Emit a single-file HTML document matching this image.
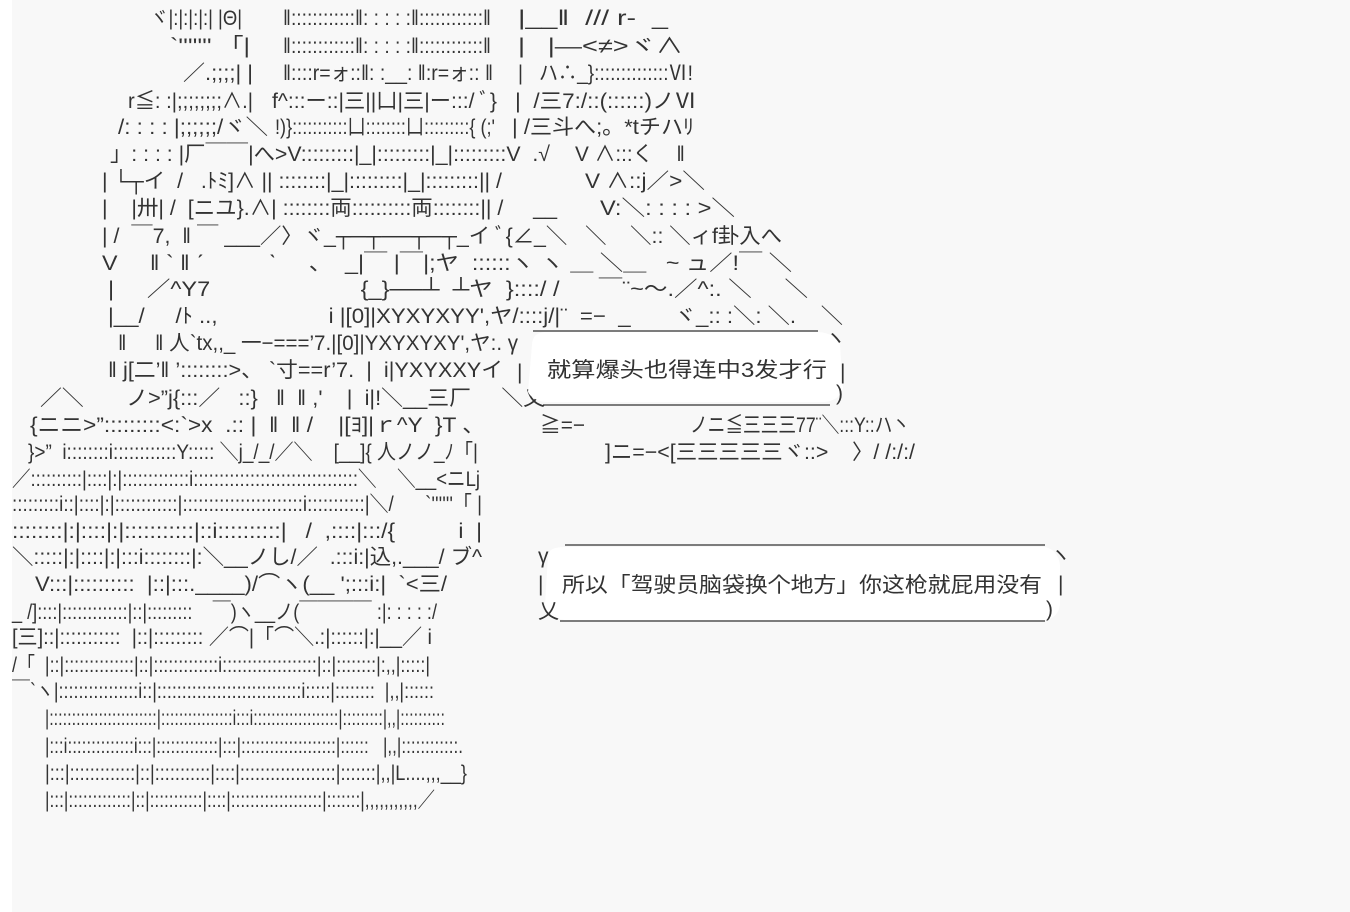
<!DOCTYPE html>
<html><head><meta charset="utf-8"><style>
html,body{margin:0;padding:0;background:#f8f8f8;}
svg{display:block}
text{font-family:"Liberation Sans","Noto Sans CJK JP",sans-serif;font-size:21px;fill:#333;white-space:pre}
</style></head><body>
<svg width="1350" height="912" viewBox="0 0 1350 912" xmlns="http://www.w3.org/2000/svg">
<rect x="0" y="0" width="12" height="912" fill="#ffffff"/>
<g>
<text x="150" y="25" textLength="92" lengthAdjust="spacingAndGlyphs">ヾ|:|:|:|:| |Θ|</text>
<text x="283" y="25" textLength="208" lengthAdjust="spacingAndGlyphs">‖::::::::::::‖: : : : :‖::::::::::::‖</text>
<text x="518" y="25" textLength="150" lengthAdjust="spacingAndGlyphs">|__‖  /// r‐  _</text>

<text x="170" y="53" textLength="80" lengthAdjust="spacingAndGlyphs">`''''''' 「|</text>
<text x="283" y="53" textLength="208" lengthAdjust="spacingAndGlyphs">‖::::::::::::‖: : : : :‖::::::::::::‖</text>
<text x="518" y="53" textLength="165" lengthAdjust="spacingAndGlyphs">|   |―&lt;≠&gt;ヾ∧</text>

<text x="183" y="80" textLength="70" lengthAdjust="spacingAndGlyphs">／.;;;;| |</text>
<text x="283" y="80" textLength="210" lengthAdjust="spacingAndGlyphs">‖::::r=ォ::‖: :__: ‖:r=ォ:: ‖</text>
<text x="518" y="80" textLength="175" lengthAdjust="spacingAndGlyphs">|   ハ∴_}::::::::::::::Ⅵ!</text>

<text x="128" y="108" textLength="125" lengthAdjust="spacingAndGlyphs">r≦: :|;;;;;;;;∧.|</text>
<text x="272" y="108" textLength="225" lengthAdjust="spacingAndGlyphs">f^:::ー::|三||凵|三|ー:::/ ﾞ}</text>
<text x="515" y="108" textLength="182" lengthAdjust="spacingAndGlyphs">|  /三7:/::(::::::)ノⅥ</text>

<text x="118" y="134" textLength="150" lengthAdjust="spacingAndGlyphs">/: : : : |;;;;;;/ヾ＼</text>
<text x="275" y="134" textLength="220" lengthAdjust="spacingAndGlyphs">!)}:::::::::::凵::::::::凵:::::::::{ (;'</text>
<text x="512" y="134" textLength="182" lengthAdjust="spacingAndGlyphs">| /三斗へ;。*tチハﾘ</text>

<text x="110" y="161" textLength="440" lengthAdjust="spacingAndGlyphs">」: : : : |厂￣￣|へ&gt;V:::::::::|_|:::::::::|_|:::::::::V  .√</text>
<text x="575" y="161" textLength="110" lengthAdjust="spacingAndGlyphs">V ∧:::く    ‖</text>

<text x="102" y="188" textLength="400" lengthAdjust="spacingAndGlyphs">| └┬イ  /   .ﾄﾐ]∧ || ::::::::|_|:::::::::|_|:::::::::|| /</text>
<text x="585" y="188" textLength="120" lengthAdjust="spacingAndGlyphs">V ∧::j／&gt;＼</text>

<text x="102" y="215" textLength="455" lengthAdjust="spacingAndGlyphs">|    |卅| /  [ニユ}.∧| ::::::::両::::::::::両::::::::|| /     __</text>
<text x="600" y="215" textLength="135" lengthAdjust="spacingAndGlyphs">V:＼: : : : &gt;＼</text>

<text x="102" y="243" textLength="680" lengthAdjust="spacingAndGlyphs">| /  ￣7,  ‖ ￣ ___／〉ヾ_┬─┬──┬─┬_イ ﾞ{∠_＼   ＼    ＼:: ＼ィf卦入へ</text>
<text x="102" y="270" textLength="690" lengthAdjust="spacingAndGlyphs">V     ‖ ` ‖ ˊ          ˋ     、  _|￣ |￣|;ヤ  ::::::ヽ ヽ ＿ ＼＿   ~ ュ／!￣ ＼</text>
<text x="108" y="296" textLength="700" lengthAdjust="spacingAndGlyphs">|     ／^Y7                       {_}──┴  ┴ヤ  }::::/ /      ￣¨~～.／^:. ＼     ＼</text>
<text x="108" y="323" textLength="735" lengthAdjust="spacingAndGlyphs">|__/     /ﾄ ..,                  i |[0]|XYXYXYY',ヤ/::::j/|¨  =−  _       ヾ_:: :＼: ＼.    ＼</text>
<text x="118" y="350" textLength="400" lengthAdjust="spacingAndGlyphs">‖     ‖ 人`tx,,_ 一−===’7.|[0]|YXYXYXY',ヤ:. γ</text>
<text x="108" y="377" textLength="395" lengthAdjust="spacingAndGlyphs">‖ j[二’‖ ’::::::::&gt;、 `寸==r’7.  |  i|YXYXXYイ</text>
<text x="40" y="405" textLength="505" lengthAdjust="spacingAndGlyphs">／＼       ノ&gt;”j{:::／   ::}   ‖  ‖ ,'    |  i|!＼__三厂     ＼乂</text>
<text x="30" y="432" textLength="455" lengthAdjust="spacingAndGlyphs">{ニニ&gt;”:::::::::&lt;:`&gt;x  .:: |  ‖  ‖ /    |[ﾖ]|ｒ^Y  }T 、</text>
<text x="540" y="432" textLength="45" lengthAdjust="spacingAndGlyphs">≧=−</text>
<text x="690" y="432" textLength="220" lengthAdjust="spacingAndGlyphs">ノニ≦三三三77¨＼:::Y::ハ丶</text>
<text x="28" y="459" textLength="450" lengthAdjust="spacingAndGlyphs">}&gt;”  i::::::::i::::::::::::Y::::: ＼j_/_/／＼    [__]{ 人ノノ_ﾉ「|</text>
<text x="605" y="459" textLength="310" lengthAdjust="spacingAndGlyphs">]ニ=−&lt;[三三三三三ヾ::&gt;    〉/ /:/:/</text>
<text x="12" y="486" textLength="468" lengthAdjust="spacingAndGlyphs">／::::::::::|::::|:|:::::::::::::i::::::::::::::::::::::::::::::::＼    ＼__&lt;ニLj</text>
<text x="12" y="511" textLength="470" lengthAdjust="spacingAndGlyphs">:::::::::i::|::::|:|::::::::::::|:::::::::::::::::::::::i:::::::::::|＼/      `''''''「 |</text>
<text x="12" y="538" textLength="470" lengthAdjust="spacingAndGlyphs">::::::::|:|::::|:|:::::::::::|::i::::::::::|   /  ,::::|:::/{          i  |</text>
<text x="12" y="564" textLength="470" lengthAdjust="spacingAndGlyphs">＼:::::|:|::::|:|:::i::::::::|:＼__ノし/／  .:::i:|込,.___/ ブ^</text>
<text x="35" y="591" textLength="412" lengthAdjust="spacingAndGlyphs">V:::|::::::::::  |::|:::.____)/⌒ヽ(__ ';:::i:|  `&lt;三/</text>
<text x="12" y="619" textLength="425" lengthAdjust="spacingAndGlyphs">_ /]::::|:::::::::::::|::|:::::::::    ￣)ヽ__ノ(￣￣￣￣ :|: : : : :/</text>
<text x="12" y="644" textLength="420" lengthAdjust="spacingAndGlyphs">[三]::|:::::::::::  |::|::::::::: ／⌒|「⌒＼.:|::::::|:|__／ i</text>
<text x="12" y="672" textLength="418" lengthAdjust="spacingAndGlyphs">/「  |::|::::::::::::::|::|:::::::::::::i:::::::::::::::::::|::|::::::::|:,,|:::::|</text>
<text x="12" y="698" textLength="422" lengthAdjust="spacingAndGlyphs">￣`ヽ|::::::::::::::::i::|:::::::::::::::::::::::::::::i:::::|::::::::  |,,|::::::</text>
<text x="45" y="725" textLength="400" lengthAdjust="spacingAndGlyphs">|::::::::::::::::::::::::|::::::::::::::::i:::i:::::::::::::::::::|:::::::::|,,|::::::::::</text>
<text x="45" y="753" textLength="418" lengthAdjust="spacingAndGlyphs">|:::i::::::::::::::i:::|:::::::::::::|:::|::::::::::::::::::::|::::::   |,,|::::::::::::.</text>
<text x="45" y="780" textLength="422" lengthAdjust="spacingAndGlyphs">|:::|:::::::::::::|::|:::::::::::|::::|:::::::::::::::::::|:::::::|,,|L....,,,__}</text>
<text x="45" y="807" textLength="390" lengthAdjust="spacingAndGlyphs">|:::|:::::::::::::|::|:::::::::::|::::|:::::::::::::::::::|:::::::|,,,,,,,,,,,／</text>
</g>

<!-- bubble 1 -->
<path d="M532 345 Q532 333 545 332 L818 332 Q835 333 840 345 L843 388 Q840 400 825 402 L545 402 Q532 400 528 392 Z" fill="#ffffff"/>
<line x1="533" y1="331" x2="818" y2="331" stroke="#333" stroke-width="1.3"/>
<line x1="543" y1="405" x2="830" y2="405" stroke="#333" stroke-width="1.3"/>
<text x="825" y="345" font-size="16">ヽ</text>
<text x="517" y="379">|</text>
<text x="840" y="379">|</text>
<text x="836" y="400">)</text>
<text x="547" y="377" textLength="280" lengthAdjust="spacingAndGlyphs">就算爆头也得连中3发才行</text>

<!-- bubble 2 -->
<path d="M548 556 Q548 547 565 547 L1045 547 Q1058 550 1060 565 L1060 605 Q1058 618 1045 620 L565 620 Q548 618 545 605 Z" fill="#ffffff"/>
<line x1="565" y1="545" x2="1045" y2="545" stroke="#333" stroke-width="1.3"/>
<line x1="560" y1="621" x2="1045" y2="621" stroke="#333" stroke-width="1.3"/>
<text x="538" y="563" font-size="18">γ</text>
<text x="1050" y="562" font-size="16">ヽ</text>
<text x="538" y="591">|</text>
<text x="1058" y="591">|</text>
<text x="538" y="618">乂</text>
<text x="1046" y="616">)</text>
<text x="562" y="592" textLength="480" lengthAdjust="spacingAndGlyphs">所以「驾驶员脑袋换个地方」你这枪就屁用没有</text>
</svg>
</body></html>
